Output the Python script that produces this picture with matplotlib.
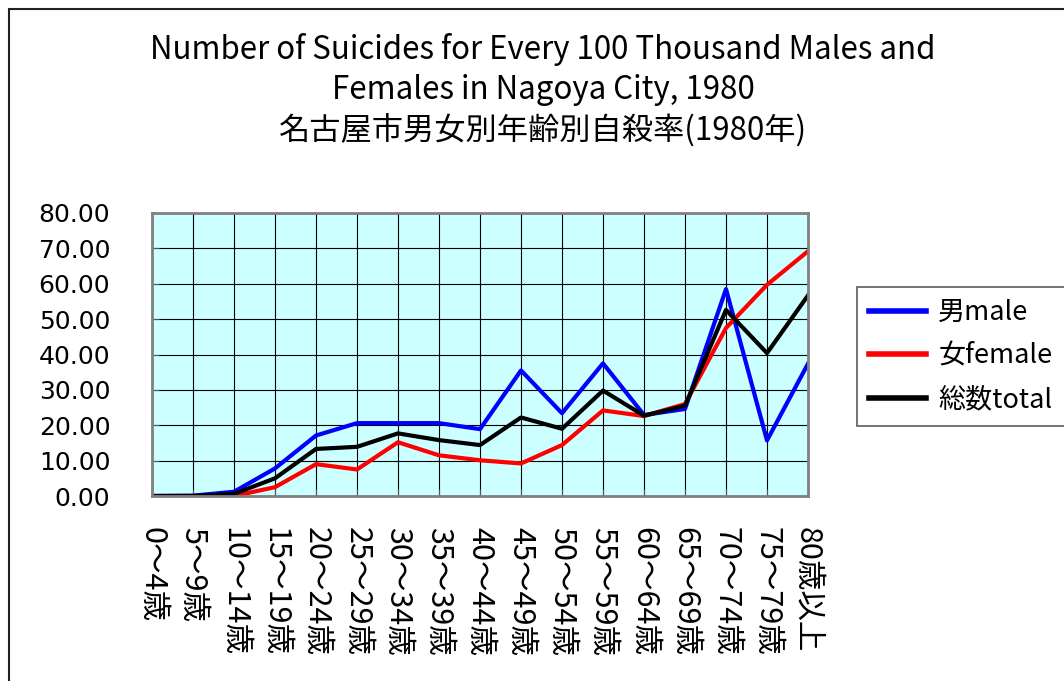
import matplotlib.pyplot as plt
from matplotlib.patches import Rectangle

plt.rcParams['font.family'] = ['Noto Sans CJK JP', 'DejaVu Sans']

age_groups = ['0～4歳', '5～9歳', '10～14歳', '15～19歳', '20～24歳', '25～29歳',
              '30～34歳', '35～39歳', '40～44歳', '45～49歳', '50～54歳', '55～59歳',
              '60～64歳', '65～69歳', '70～74歳', '75～79歳', '80歳以上']
male = [0.0, 0.1, 1.2, 7.8, 17.1, 20.6, 20.6, 20.6, 18.9, 35.5, 23.4, 37.5,
        22.9, 24.6, 58.5, 15.7, 37.4]
female = [0.0, 0.0, 0.0, 2.5, 9.0, 7.5, 15.2, 11.5, 10.1, 9.2, 14.4, 24.2,
          22.6, 26.0, 47.5, 59.7, 69.2]
total = [0.0, 0.0, 0.6, 5.0, 13.3, 13.9, 17.7, 15.8, 14.4, 22.2, 19.0, 29.8,
         22.7, 25.5, 52.6, 40.4, 56.7]
yticks = [0, 10, 20, 30, 40, 50, 60, 70, 80]

title_lines = ['Number of Suicides for Every 100 Thousand Males and',
               'Females in Nagoya City, 1980',
               '名古屋市男女別年齢別自殺率(1980年)']

W, H = 1064, 681
fig = plt.figure(figsize=(W / 100, H / 100), dpi=100)

# outer chart border (runs off the right and bottom edges)
fig.patches.append(Rectangle((9 / W, -0.1), 1.2, 1 - 9 / H + 0.1,
                             transform=fig.transFigure, fill=False,
                             edgecolor='#222222', linewidth=1.5))

ax = fig.add_axes([152 / W, 1 - 496 / H, (808 - 152) / W, (496 - 213) / H])
ax.set_facecolor('#CCFFFF')

x = list(range(len(age_groups)))
ax.plot(x, male, color='#0000FF', linewidth=3, label='男male')
ax.plot(x, female, color='#FF0000', linewidth=3, label='女female')
ax.plot(x, total, color='#000000', linewidth=3, label='総数total')

ax.set_xlim(0, len(age_groups) - 1)
ax.set_ylim(0, 80)
ax.set_yticks(yticks)
ax.set_yticklabels([f'{v:.2f}' for v in yticks], fontsize=18,
                   family='DejaVu Sans')
ax.set_xticks(x)
ax.set_xticklabels(age_groups, rotation=-90, fontsize=22, va='top', ha='center')
ax.tick_params(axis='x', direction='in', length=5, pad=22, color='#555555')
ax.tick_params(axis='y', direction='in', length=5, pad=30, color='#555555')
ax.grid(True, color='black', linewidth=0.8)
ax.set_axisbelow(True)
for s in ax.spines.values():
    s.set_color('#808080')
    s.set_linewidth(2)

for i, line in enumerate(title_lines):
    fig.text(543 / W, 1 - (50 + 40 * i) / H, line, ha='center', va='center',
             fontsize=22.5)

leg = fig.legend(loc='upper left', bbox_to_anchor=(857 / W, 1 - 287 / H),
                 fontsize=19.5, frameon=True, fancybox=False, handlelength=2.1,
                 borderpad=0.45, labelspacing=0.62, handletextpad=0.45,
                 borderaxespad=0)
leg.get_frame().set_edgecolor('#333333')
leg.get_frame().set_linewidth(1.2)
for h in leg.get_lines():
    h.set_linewidth(4)

fig.savefig('out.png', dpi=100)
